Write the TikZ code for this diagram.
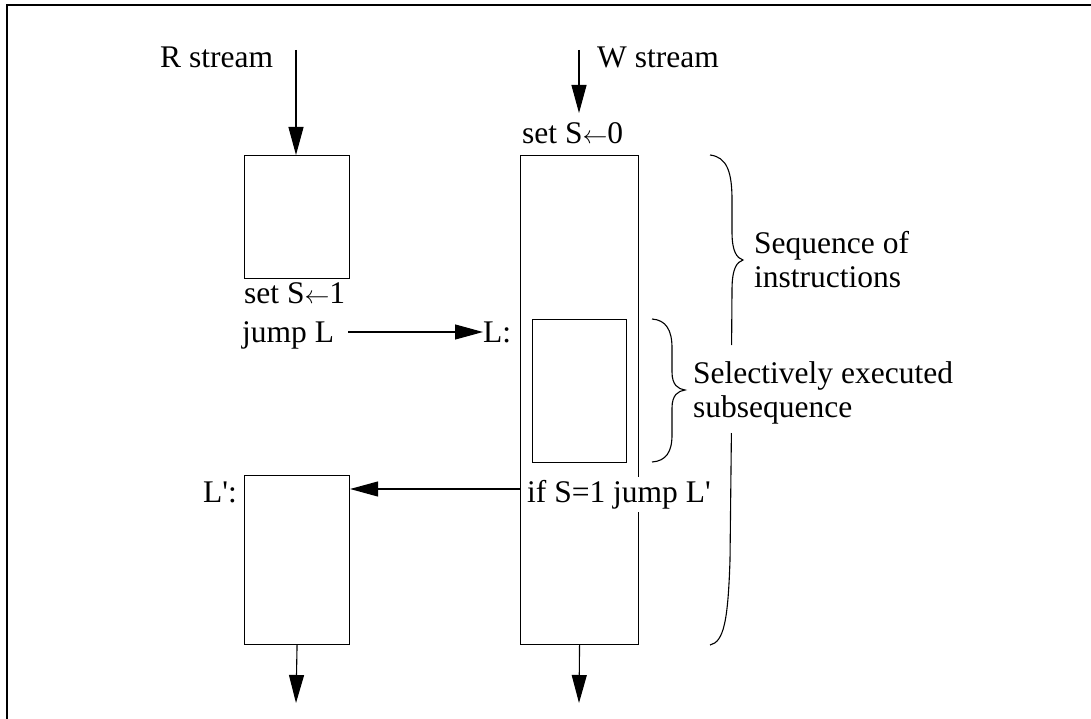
\documentclass[tikz,border=0pt]{standalone}
\usepackage{fontspec}
\setmainfont{Liberation Serif}
\usetikzlibrary{arrows.meta}
\newcommand{\larr}{\ensuremath{\leftarrow}}
\begin{document}
\begin{tikzpicture}[x=1pt,y=-1pt,
  lbl/.style={font=\fontsize{31.5}{36}\selectfont, inner sep=0pt, anchor=base west},
  blk/.style={draw, line width=1.1pt, inner sep=0pt, anchor=north west},
  conn/.style={line width=1.1pt, -{Triangle[length=28pt,width=15pt]}},
  brace/.style={line width=1.1pt}]
\useasboundingbox (0,0) rectangle (1091,719);
\draw[line width=1.8pt] (7,721) -- (7,5) -- (1093,5);
% boxes
\node[blk, minimum width=105pt, minimum height=123pt] (r1) at (244,155) {};
\node[blk, minimum width=118pt, minimum height=489pt] (w) at (520,155) {};
\node[blk, minimum width=94pt, minimum height=143pt] (inner) at (532,319) {};
\node[blk, minimum width=105pt, minimum height=169pt] (lp) at (244,475) {};
% labels
\node[lbl] (rs) at (160,68) {R stream};
\node[lbl] (ws) at (597,68) {W stream};
\node[lbl] (s0) at (522,144) {set S\larr0};
\node[lbl] (s1) at (244,303) {set S\larr1};
\node[lbl] (jl) at (242,342) {jump L};
\node[lbl] (L) at (483,342) {L:};
\node[lbl, fill=white, inner sep=3pt] (ifs) at (524,502) {if S=1 jump L\textquotesingle};
\node[lbl] (Lp) at (203,502) {L\textquotesingle:};
\node[lbl] (seq1) at (754,253) {Sequence of};
\node[lbl] (seq2) at (754,287) {instructions};
\node[lbl] (sel1) at (693,383) {Selectively executed};
\node[lbl] (sel2) at (693,417) {subsequence};
% free ends
\coordinate (rtop) at (296,50);
\coordinate (wtop) at (579,50);
\coordinate (rbot) at (296,703);
\coordinate (wbot) at (579,703);
\coordinate (jstart) at (348,332);
\coordinate (ifstart) at (520,489);
% connectors
\draw[conn] (rtop) -- (rtop |- r1.north);
\draw[conn] (wtop) -- (579,113);
\draw[conn] (jstart) -- (L.west |- jstart);
\draw[conn] (ifstart) -- (lp.east |- ifstart);
\draw[conn] (r1.south |- lp.south) -- (rbot);
\draw[conn] (w.south) -- (wbot);
% braces
\draw[brace] (710,155) .. controls (727,157) and (732,172) .. (732,200)
  -- (732,232) .. controls (732,252) and (737,258) .. (743,260)
  .. controls (737,262) and (732,268) .. (732,290)
  -- (731.6,345);
\draw[brace] (731.4,433) -- (730,560) .. controls (728,620) and (724,642) .. (710,645);
\draw[brace] (652,319) .. controls (666,320) and (672,330) .. (672,348)
  -- (672,372) .. controls (672,385) and (678,389) .. (685,390)
  .. controls (678,391) and (672,395) .. (672,408)
  -- (672,435) .. controls (672,452) and (666,461) .. (652,462);
\end{tikzpicture}
\end{document}
